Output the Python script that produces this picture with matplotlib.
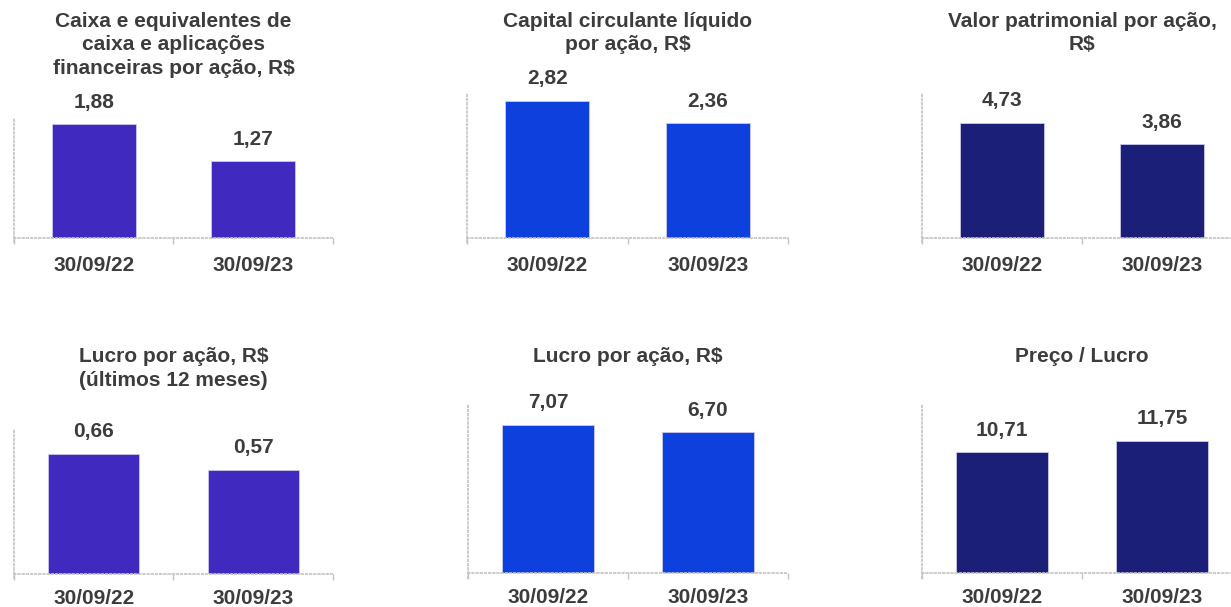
import matplotlib
matplotlib.use("Agg")
import matplotlib.pyplot as plt

# ============================================================
# Dados
# ============================================================
datas = ["30/09/22", "30/09/23"]

caixa = [1.88, 1.27]
capital_giro = [2.82, 2.36]
valor_patrimonial = [4.73, 3.86]
lucro_12m = [0.66, 0.57]
lucro_acao = [7.07, 6.70]
preco_lucro = [10.71, 11.75]

titulos = [
    "Caixa e equivalentes de\ncaixa e aplicações\nfinanceiras por ação, R$",
    "Capital circulante líquido\npor ação, R$",
    "Valor patrimonial por ação,\nR$",
    "Lucro por ação, R$\n(últimos 12 meses)",
    "Lucro por ação, R$",
    "Preço / Lucro",
]

# ============================================================
# Estilo
# ============================================================
ROXO = "#3f29bf"
AZUL = "#0e40de"
MARINHO = "#1b1f78"
TEXTO = "#3c3c3c"
PONTILHADO = "#c4c4c4"

plt.rcParams["font.family"] = ["Liberation Sans", "DejaVu Sans"]
plt.rcParams["font.weight"] = "bold"

W, H = 1231, 607
fig = plt.figure(figsize=(W / 100, H / 100), dpi=100)

# (esquerda, base, largura, topo) em pixels, limite y, largura da barra, pad dos rótulos
paineis = [
    (caixa, ROXO, (14, 238, 319, 117), 2, 0.525, 13),
    (capital_giro, AZUL, (467, 238, 321, 92), 3, 0.525, 13),
    (valor_patrimonial, MARINHO, (922, 238, 320, 92), 6, 0.525, 13),
    (lucro_12m, ROXO, (14, 574, 319, 428), 0.8, 0.57, 11),
    (lucro_acao, AZUL, (468, 573, 320, 405), 8, 0.57, 11),
    (preco_lucro, MARINHO, (922, 573, 320, 404), 15, 0.57, 11),
]
titulo_y = [12, 12, 12, 347, 347, 347]


def fmt(v):
    return f"{v:.2f}".replace(".", ",")


for (valores, cor, (x0, yb, w, yt), ymax, larg, pad), titulo, ty in zip(paineis, titulos, titulo_y):
    ax = fig.add_axes([x0 / W, 1 - yb / H, w / W, (yb - yt) / H])
    pos = list(range(len(datas)))
    barras = ax.bar(pos, valores, width=larg, color=cor, edgecolor="#c8c8ec", linewidth=0.6)
    for b, v in zip(barras, valores):
        ax.annotate(fmt(v), (b.get_x() + b.get_width() / 2, v), xytext=(0, 9),
                    textcoords="offset points", ha="center", va="bottom",
                    fontsize=15, fontweight="bold", color=TEXTO)

    ax.set_xlim(-0.5, 1.5)
    ax.set_ylim(0, ymax)
    ax.set_xticks(pos)
    ax.set_xticklabels(datas, fontsize=15, fontweight="bold", color=TEXTO)
    ax.set_xticks([-0.5, 0.5, 1.5], minor=True)
    ax.tick_params(axis="x", which="major", length=0, pad=pad)
    ax.tick_params(axis="x", which="minor", length=4, width=1, color=PONTILHADO, direction="out")
    ax.set_yticks([])

    for lado in ["top", "right"]:
        ax.spines[lado].set_visible(False)
    for lado in ["left", "bottom"]:
        ax.spines[lado].set_color(PONTILHADO)
        ax.spines[lado].set_linewidth(1.2)
        ax.spines[lado].set_linestyle((0, (1, 1.5)))
    ax.spines["left"].set_bounds(-ymax * 0.03, ymax)
    ax.patch.set_alpha(0)

    fig.text((x0 + w / 2) / W, 1 - ty / H, titulo, ha="center", va="top",
             fontsize=15, fontweight="bold", color=TEXTO, linespacing=1.3)

fig.savefig("out.png", dpi=100)
